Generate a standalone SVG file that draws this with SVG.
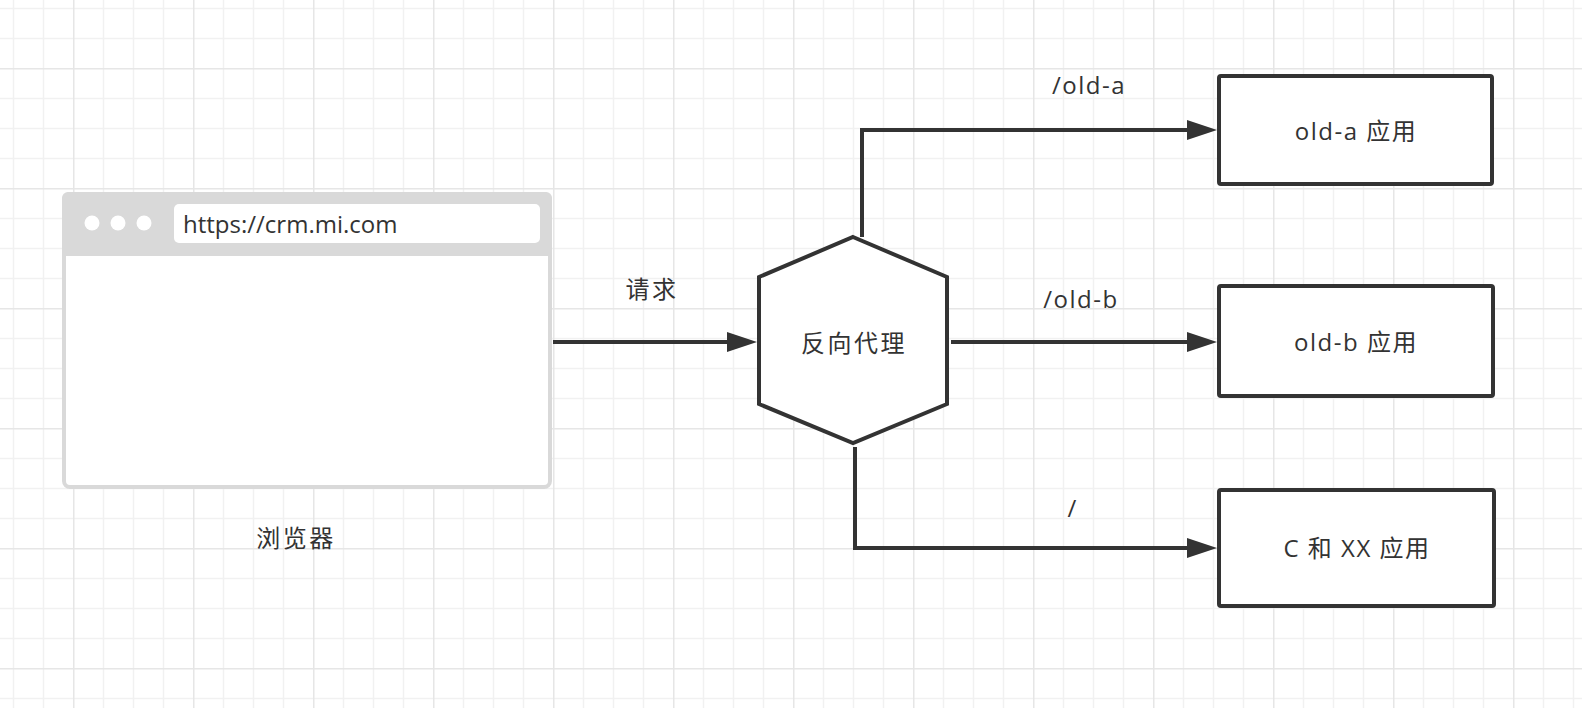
<svg xmlns="http://www.w3.org/2000/svg" width="1582" height="708" viewBox="0 0 1582 708">
  <defs>
    <pattern id="grid" patternUnits="userSpaceOnUse" x="73" y="68" width="120" height="120">
      <path d="M30.5,0V120M60.5,0V120M90.5,0V120M0,30.5H120M0,60.5H120M0,90.5H120" stroke="#f1f1f1" stroke-width="1.5" fill="none"/>
      <path d="M0.5,0V120M0,0.5H120" stroke="#e6e6e6" stroke-width="2" fill="none"/>
    </pattern>
    <marker id="arr" markerUnits="userSpaceOnUse" markerWidth="32" markerHeight="22" viewBox="-1 -11 32 22" refX="1" refY="0" orient="auto">
      <path d="M0,-10 L30,0 L0,10 Z" fill="#333333"/>
    </marker>
  </defs>
  <style>
    text { font-family: "Open Sans", "Noto Sans CJK SC", sans-serif; font-size: 24px; fill: #333333; }
    .c { text-anchor: middle; }
    .cj { letter-spacing: 2.5px; }
    .mx { letter-spacing: 1.5px; }
    .box { fill: #ffffff; stroke: #333333; stroke-width: 4; }
    .edge { fill: none; stroke: #333333; stroke-width: 4; marker-end: url(#arr); }
  </style>
  <rect x="0" y="0" width="1582" height="708" fill="#ffffff"/>
  <rect x="0" y="0" width="1582" height="708" fill="url(#grid)"/>

  <g id="browser">
    <rect x="64" y="194" width="486" height="293" rx="6" fill="#ffffff" stroke="#d9d9d9" stroke-width="4"/>
    <path d="M62,256 V198 a6,6 0 0 1 6,-6 H546 a6,6 0 0 1 6,6 V256 Z" fill="#d9d9d9"/>
    <circle cx="92" cy="223" r="7.5" fill="#ffffff"/>
    <circle cx="118" cy="223" r="7.5" fill="#ffffff"/>
    <circle cx="144" cy="223" r="7.5" fill="#ffffff"/>
    <rect x="174" y="204" width="366" height="39" rx="5" fill="#ffffff"/>
    <text x="183" y="233">https://crm.mi.com</text>
  </g>
  <g id="browser-label">
    <text class="c cj" x="296" y="547">浏览器</text>
  </g>

  <g id="proxy">
    <polygon class="box" points="853,237 947,277 947,404 853,443 759,404 759,277"/>
    <text class="c cj" x="854" y="352">反向代理</text>
  </g>

  <g id="old-a">
    <rect class="box" x="1219" y="76" width="273" height="108" rx="2"/>
    <text class="c mx" x="1356" y="140">old-a 应用</text>
  </g>
  <g id="old-b">
    <rect class="box" x="1219" y="286" width="274" height="110" rx="2"/>
    <text class="c mx" x="1356" y="351">old-b 应用</text>
  </g>
  <g id="c-xx">
    <rect class="box" x="1219" y="490" width="275" height="116" rx="2"/>
    <text class="c mx" x="1357" y="557">C 和 XX 应用</text>
  </g>

  <g id="connectors">
    <path class="edge" d="M553,342 H728"/>
    <path class="edge" d="M862,237 V130 H1188"/>
    <path class="edge" d="M951,342 H1188"/>
    <path class="edge" d="M855,447 V548 H1188"/>
    <text class="c cj" x="652" y="298">请求</text>
    <text class="c mx" x="1089" y="94">/old-a</text>
    <text class="c mx" x="1081" y="308">/old-b</text>
    <text class="c" x="1072" y="517">/</text>
  </g>
</svg>
